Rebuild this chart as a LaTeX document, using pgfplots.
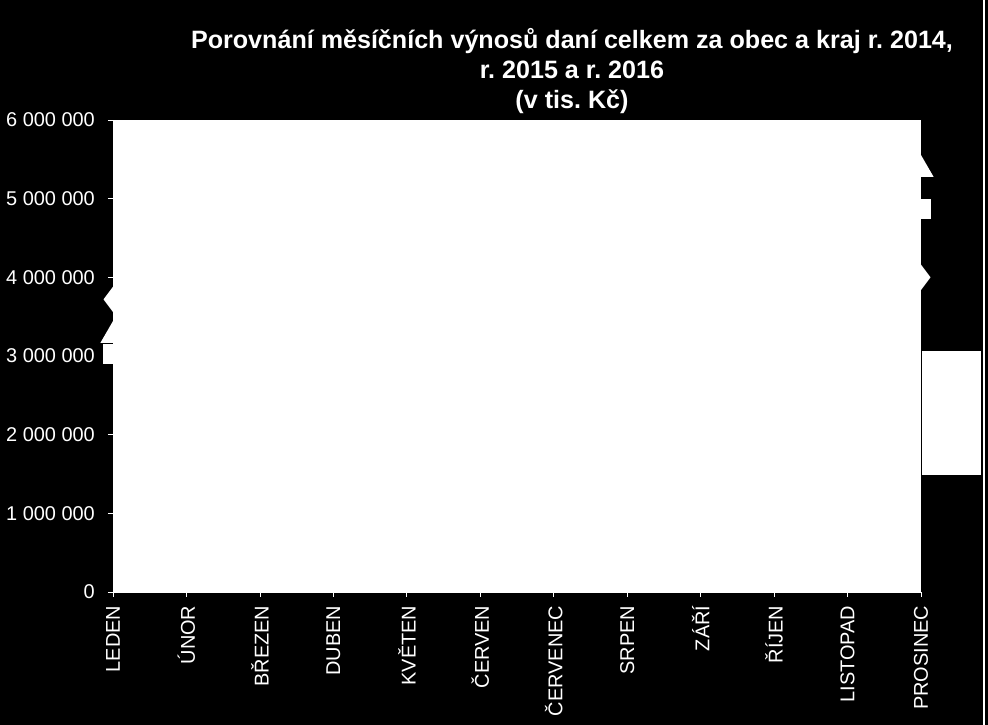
\documentclass[border=0pt]{standalone}
\usepackage{pgfplots}
\pgfplotsset{compat=1.18}
\usepackage{fontspec}
\setmainfont{Liberation Sans}

% monthly tax yield, thousands CZK (lines are white on white in the original)
\pgfplotstableread{
m  r2014    r2015    r2016
0  3720000  3020000  3260000
1  3900000  3600000  3950000
2  3300000  3100000  3500000
3  2700000  2900000  3200000
4  3700000  3800000  4100000
5  3500000  3600000  3900000
6  3600000  3700000  4000000
7  3000000  3200000  3400000
8  3100000  3300000  3600000
9  3800000  3900000  4300000
10 3200000  3400000  3700000
11 4000000  4870000  5370000
}\vynosy

\begin{document}
\begin{tikzpicture}[x=1bp,y=1bp]
% black chart area, axis box spans 808 x 472 bp from its lower left corner
\fill[black] (-113,-133) rectangle (875,592);
\useasboundingbox (-113,-133) rectangle (875,592);
\begin{axis}[
    at={(0,0)}, anchor=south west,
    scale only axis,
    width=808bp, height=472bp,
    xmin=0, xmax=11,
    ymin=0, ymax=6000000,
    clip=false,
    axis background/.style={fill=white},
    axis line style={white},
    axis x line*=bottom,
    axis y line*=left,
    tick align=outside,
    major tick length=5bp,
    tick style={white, line width=0.8pt},
    xtick={0,...,11},
    xticklabels={LEDEN,ÚNOR,BŘEZEN,DUBEN,KVĚTEN,ČERVEN,ČERVENEC,SRPEN,ZÁŘÍ,ŘÍJEN,LISTOPAD,PROSINEC},
    x tick label style={rotate=90, anchor=east, inner xsep=8.5bp, text=white, font=\fontsize{20}{24}\selectfont},
    ytick={0,1000000,2000000,3000000,4000000,5000000,6000000},
    yticklabels={0,1 000 000,2 000 000,3 000 000,4 000 000,5 000 000,6 000 000},
    scaled y ticks=false,
    y tick label style={inner xsep=13bp, text=white, font=\fontsize{20}{24}\selectfont},
]
\addplot[white, line width=2pt, mark=diamond*, mark size=11bp,
    mark options={fill=white, draw=white}] table[x=m, y=r2014] {\vynosy};
\addplot[white, line width=2pt, mark=square*, mark size=9bp,
    mark options={fill=white, draw=white}] table[x=m, y=r2015] {\vynosy};
\addplot[white, line width=2pt, mark=triangle*, mark size=12.5bp,
    mark options={fill=white, draw=white}] table[x=m, y=r2016] {\vynosy};
\end{axis}
% legend box (white entries on white)
\fill[white] (809,117) rectangle (868,241);
% frame line at the right edge
\draw[white, line width=1.5bp] (871,-133) -- (871,592);
\node[anchor=north, align=center, text=white, inner sep=0pt,
      font=\bfseries\frenchspacing\fontsize{25.2}{30}\selectfont] at (459,564)
  {Porovnání měsíčních výnosů daní celkem za obec a kraj r. 2014,\\
   r. 2015 a r. 2016\\(v tis. Kč)};
\end{tikzpicture}
\end{document}
